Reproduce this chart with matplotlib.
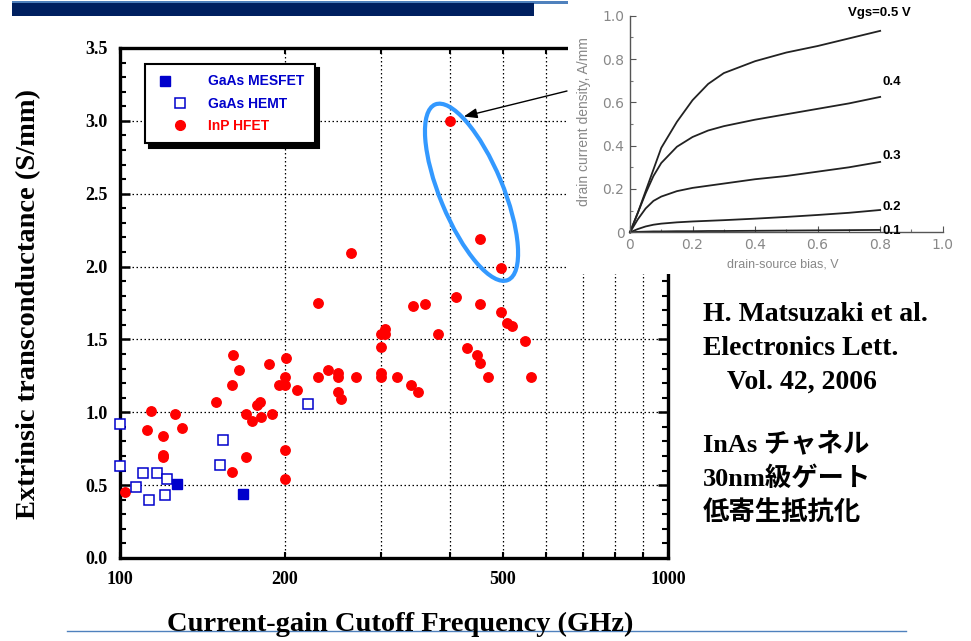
import matplotlib.pyplot as plt
import numpy as np
from matplotlib.legend_handler import HandlerTuple
from matplotlib.lines import Line2D
from matplotlib.patches import Ellipse, Rectangle
from matplotlib.ticker import MultipleLocator, NullFormatter
from matplotlib.transforms import IdentityTransform

# main chart: current-gain cutoff frequency fT (GHz) vs extrinsic gm (S/mm)
inp_ft = [102, 112, 114, 120, 120, 120, 126, 130, 150, 160, 160, 161, 165,
          170, 170, 174, 178, 180, 181, 187, 189, 195, 200, 200, 200, 200,
          201, 210, 230, 230, 240, 250, 250, 250, 253, 264, 270, 300, 300,
          300, 300, 304, 305, 320, 340, 343, 350, 360, 380, 400, 410, 430,
          449, 453, 454, 454, 469, 495, 496, 508, 519, 549, 562]
inp_gm = [0.45, 0.88, 1.01, 0.84, 0.71, 0.69, 0.99, 0.89, 1.07, 1.19, 0.59,
          1.39, 1.29, 0.99, 0.69, 0.94, 1.05, 1.07, 0.97, 1.33, 0.99, 1.19,
          1.24, 1.19, 0.74, 0.54, 1.37, 1.15, 1.75, 1.24, 1.29, 1.27, 1.24,
          1.14, 1.09, 2.09, 1.24, 1.45, 1.27, 1.24, 1.54, 1.57, 1.54, 1.24,
          1.19, 1.73, 1.14, 1.74, 1.54, 3.00, 1.79, 1.44, 1.39, 2.19, 1.74,
          1.34, 1.24, 1.69, 1.99, 1.61, 1.59, 1.49, 1.24]

hemt_ft = [100, 100, 107, 110, 113, 117, 121, 122, 152, 154, 220]
hemt_gm = [0.92, 0.63, 0.49, 0.58, 0.40, 0.58, 0.43, 0.54, 0.64, 0.81, 1.06]

mesfet_ft = [127, 168]
mesfet_gm = [0.51, 0.44]

x_ticks = [100, 200, 500, 1000]
x_minor = [300, 400, 600, 700, 800, 900]
y_ticks = [0.0, 0.5, 1.0, 1.5, 2.0, 2.5, 3.0, 3.5]
legend_labels = ['GaAs MESFET', 'GaAs HEMT', 'InP HFET']

# inset: drain current density (A/mm) vs drain-source bias (V)
vds = [0, 0.025, 0.05, 0.075, 0.1, 0.15, 0.2, 0.25, 0.3, 0.4, 0.5, 0.6, 0.7, 0.8]
id_05 = [0, 0.09, 0.19, 0.29, 0.39, 0.51, 0.61, 0.685, 0.735, 0.79, 0.83, 0.86, 0.895, 0.93]
id_04 = [0, 0.09, 0.18, 0.26, 0.32, 0.395, 0.44, 0.47, 0.49, 0.52, 0.545, 0.57, 0.595, 0.625]
id_03 = [0, 0.06, 0.11, 0.145, 0.165, 0.19, 0.205, 0.215, 0.225, 0.245, 0.26, 0.28, 0.30, 0.325]
id_02 = [0, 0.015, 0.027, 0.035, 0.04, 0.046, 0.05, 0.053, 0.056, 0.063, 0.071, 0.08, 0.09, 0.103]
id_01 = [0, 0.002, 0.003, 0.004, 0.004, 0.005, 0.005, 0.006, 0.006, 0.007, 0.008, 0.009, 0.010, 0.011]
curve_labels = ['Vgs=0.5 V', '0.4', '0.3', '0.2', '0.1']
inset_ticks = [0, 0.2, 0.4, 0.6, 0.8, 1.0]
inset_ticklabels = ['0', '0.2', '0.4', '0.6', '0.8', '1.0']

W, H = 971, 641
SERIF = 'Liberation Serif'
BLUE = '#0000cc'
RED = '#ff0000'

fig = plt.figure(figsize=(W / 100, H / 100), dpi=100)

# ---- main axes
ax = fig.add_axes([120 / W, 83 / H, 548 / W, 510 / H])
ax.set_zorder(1)
ax.set_xscale('log')
ax.set_xlim(100, 1000)
ax.set_ylim(0, 3.5)
ax.set_axisbelow(True)

ax.set_xticks(x_ticks, labels=[str(v) for v in x_ticks])
ax.set_xticks(x_minor, minor=True)
ax.xaxis.set_minor_formatter(NullFormatter())
ax.set_yticks(y_ticks, labels=['%.1f' % v for v in y_ticks])
ax.yaxis.set_minor_locator(MultipleLocator(0.1))

for lab in ax.get_xticklabels() + ax.get_yticklabels():
    lab.set_fontfamily(SERIF)
    lab.set_fontweight('bold')
    lab.set_fontsize(13)

for sp in ax.spines.values():
    sp.set_linewidth(2.4)

ax.tick_params(axis='y', which='major', direction='in', length=7, width=1.8,
               left=True, right=True, pad=9)
ax.tick_params(axis='y', which='minor', direction='in', length=4.5, width=1.5,
               left=True, right=True)
ax.tick_params(axis='x', which='both', direction='in', length=4, width=1.5,
               top=True, bottom=True, pad=9)

dots = (0, (1.2, 2.0))
ax.xaxis.grid(True, which='both', color='black', lw=0.9, ls=dots)
ax.yaxis.grid(True, which='major', color='black', lw=0.9, ls=dots)

ax.plot(inp_ft, inp_gm, 'o', color=RED, ms=6.8, mec=RED, clip_on=False, zorder=3)
ax.plot(hemt_ft, hemt_gm, 's', mfc='white', mec=BLUE, mew=1.1, ms=7.2,
        clip_on=False, zorder=3)
ax.plot(mesfet_ft, mesfet_gm, 's', mfc=BLUE, mec=BLUE, ms=7.5,
        clip_on=False, zorder=3)

h_mes = (Line2D([], [], marker='s', ls='', mfc=BLUE, mec=BLUE, ms=7),
         Line2D([], [], marker='_', ls='', mec='white', ms=5, mew=1.5))
h_hemt = Line2D([], [], marker='s', ls='', mfc='white', mec=BLUE, mew=1.1, ms=7)
h_inp = Line2D([], [], marker='o', ls='', color=RED, ms=7)
leg = ax.legend([h_mes, h_hemt, h_inp], legend_labels,
                handler_map={tuple: HandlerTuple(ndivide=None)},
                loc='upper left', bbox_to_anchor=(25 / 548, 494 / 510),
                borderaxespad=0, fancybox=False, framealpha=1,
                edgecolor='black',
                shadow={'ox': 3, 'oy': -3, 'facecolor': 'black',
                        'edgecolor': 'black', 'alpha': 1},
                prop={'family': 'Liberation Sans', 'weight': 'bold',
                      'size': 10},
                borderpad=0.75, handlelength=3.5, handletextpad=0.3,
                labelspacing=0.6)
leg.get_frame().set_linewidth(1.5)
for txt, c in zip(leg.get_texts(), [BLUE, BLUE, RED]):
    txt.set_color(c)

# highlight ellipse around the top InP points (drawn in pixels)
cx, cy = ax.transData.transform((438, 2.51))
ax.add_patch(Ellipse((cx, cy), 63, 190, angle=22.5, transform=IdentityTransform(),
                     fill=False, edgecolor='#3399ff', lw=3, clip_on=False, zorder=4))
ax.annotate('', xy=(424, 3.03), xycoords='data',
            xytext=(567 / W, 1 - 91 / H), textcoords='figure fraction',
            arrowprops=dict(arrowstyle='-|>,head_length=0.8,head_width=0.3',
                            color='black', lw=1.0, shrinkA=0, shrinkB=0),
            zorder=4)

fig.text(29 / W, 1 - 304 / H, 'Extrinsic transconductance (S/mm)', rotation=90,
         ha='center', va='center', family=SERIF, weight='bold', size=20.5)
fig.text(400 / W, 1 - 624 / H, 'Current-gain Cutoff Frequency (GHz)',
         ha='center', va='center', family=SERIF, weight='bold', size=20.5)

# ---- white panel that holds the inset
fig.add_artist(Rectangle((568 / W, 1 - 274 / H), 403 / W, 274 / H,
                         transform=fig.transFigure, facecolor='white',
                         edgecolor='none', zorder=2))

ax_in = fig.add_axes([630 / W, 1 - 232.3 / H, 312.7 / W, 216.6 / H])
ax_in.set_zorder(3)
ax_in.patch.set_alpha(0)
ax_in.set_xlim(0, 1.0)
ax_in.set_ylim(0, 1.0)
for name in ['top', 'right']:
    ax_in.spines[name].set_visible(False)
for name in ['left', 'bottom']:
    ax_in.spines[name].set_color('#555555')
    ax_in.spines[name].set_linewidth(1.0)
ax_in.set_xticks(inset_ticks, labels=inset_ticklabels)
ax_in.set_yticks(inset_ticks, labels=inset_ticklabels)
ax_in.xaxis.set_minor_locator(MultipleLocator(0.1))
ax_in.yaxis.set_minor_locator(MultipleLocator(0.1))
ax_in.tick_params(which='major', direction='in', length=4, width=0.8,
                  color='#555555', labelcolor='#888888', labelsize=10, pad=4)
ax_in.tick_params(which='minor', direction='in', length=2, width=0.8,
                  color='#777777')
for curve in [id_05, id_04, id_03, id_02, id_01]:
    ax_in.plot(vds, curve, color='#222222', lw=1.3, clip_on=False)

label_pos = [(0.697, 1.011), (0.809, 0.695), (0.809, 0.354), (0.809, 0.118),
             (0.809, 0.007)]
for txt, (lx, ly) in zip(curve_labels, label_pos):
    ax_in.text(lx, ly, txt, ha='left', va='center', fontsize=9.5,
               fontweight='bold', family='Liberation Sans', color='black',
               clip_on=False)

fig.text(584 / W, 1 - 122 / H, 'drain current density, A/mm', rotation=90,
         ha='center', va='center', size=10, color='#888888',
         family='Liberation Sans', zorder=4)
fig.text(783 / W, 1 - 265 / H, 'drain-source bias, V', ha='center',
         va='center', size=9, color='#888888', family='Liberation Sans',
         zorder=4)

# ---- slide decoration
fig.add_artist(Rectangle((12 / W, 1 - 3.5 / H), 556 / W, 2.5 / H,
                         transform=fig.transFigure, facecolor='#4f81bd',
                         edgecolor='none', zorder=1))
fig.add_artist(Rectangle((12 / W, 1 - 16 / H), 522 / W, 13 / H,
                         transform=fig.transFigure, facecolor='#002060',
                         edgecolor='none', zorder=1))
fig.add_artist(Line2D([67 / W, 906 / W], [1 - 631 / H, 1 - 631 / H],
                      transform=fig.transFigure, color='#4f81bd', lw=1.0,
                      zorder=1))

# ---- citation / notes on the right
ref_lines = [('H. Matsuzaki et al.', 703, 321),
             ('Electronics Lett.', 703, 355),
             ('Vol. 42, 2006', 727, 389)]
for txt, px, py in ref_lines:
    fig.text(px / W, 1 - py / H, txt, ha='left', va='baseline',
             family=SERIF, weight='bold', size=20)

jp_lines = [('InAs チャネル', 703, 452),
            ('30nm級ゲート', 703, 486),
            ('低寄生抵抗化', 703, 520)]
for txt, px, py in jp_lines:
    fig.text(px / W, 1 - py / H, txt, ha='left', va='baseline',
             family=[SERIF, 'Noto Sans CJK JP'], weight='bold', size=19)

fig.savefig('out.png', dpi=100)
